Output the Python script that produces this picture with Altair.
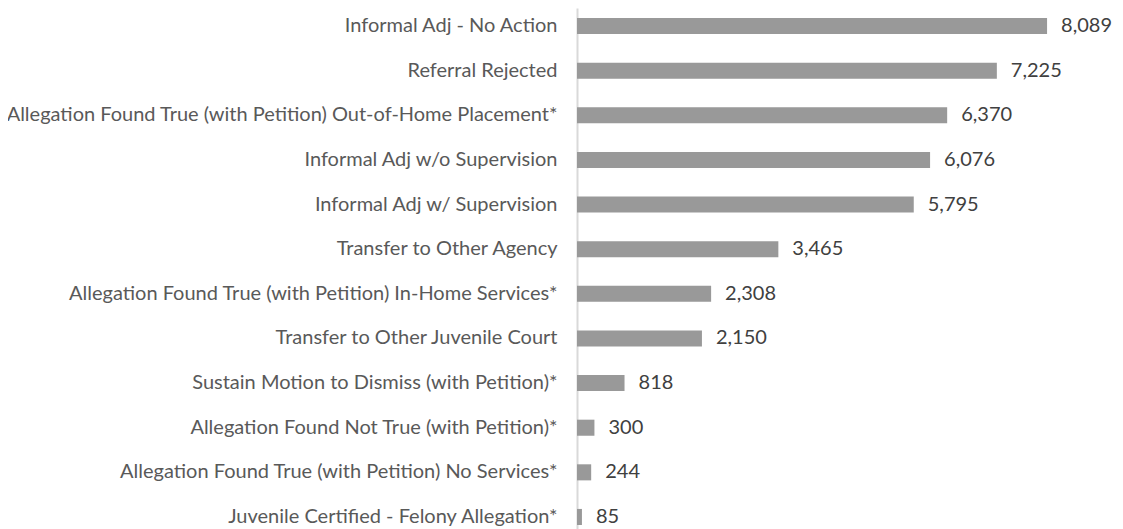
import altair as alt
import pandas as pd

categories = [
    "Informal Adj - No Action",
    "Referral Rejected",
    "Allegation Found True (with Petition) Out-of-Home Placement*",
    "Informal Adj w/o Supervision",
    "Informal Adj w/ Supervision",
    "Transfer to Other Agency",
    "Allegation Found True (with Petition) In-Home Services*",
    "Transfer to Other Juvenile Court",
    "Sustain Motion to Dismiss (with Petition)*",
    "Allegation Found Not True (with Petition)*",
    "Allegation Found True (with Petition) No Services*",
    "Juvenile Certified - Felony Allegation*",
]
values = [8089, 7225, 6370, 6076, 5795, 3465, 2308, 2150, 818, 300, 244, 85]

df = pd.DataFrame({"cat": categories, "val": values})

y = alt.Y("cat:N", sort=categories, title=None,
          scale=alt.Scale(paddingInner=0.64, paddingOuter=0.224),
          axis=alt.Axis(labelFont="Lato", labelFontSize=20, labelColor="#595959",
                        labelPadding=20, ticks=False, domainColor="#d9d9d9",
                        domainWidth=2, labelLimit=700))
x = alt.X("val:Q", title=None, scale=alt.Scale(domain=[0, 9000]), axis=None)

bars = alt.Chart(df).mark_bar(color="#999999").encode(x=x, y=y)
text = alt.Chart(df).mark_text(align="left", baseline="middle", dx=14,
                               font="Lato", fontSize=20, color="#404040").encode(
    x=x, y=y, text=alt.Text("val:Q", format=","))

chart = (bars + text).properties(
    width=523, height=527,
    autosize=alt.AutoSizeParams(type="none"),
    padding={"left": 569, "top": 0, "right": 15, "bottom": 0},
).configure_view(stroke=None)

chart.save("out.html", embed_options={"renderer": "svg", "actions": False})
